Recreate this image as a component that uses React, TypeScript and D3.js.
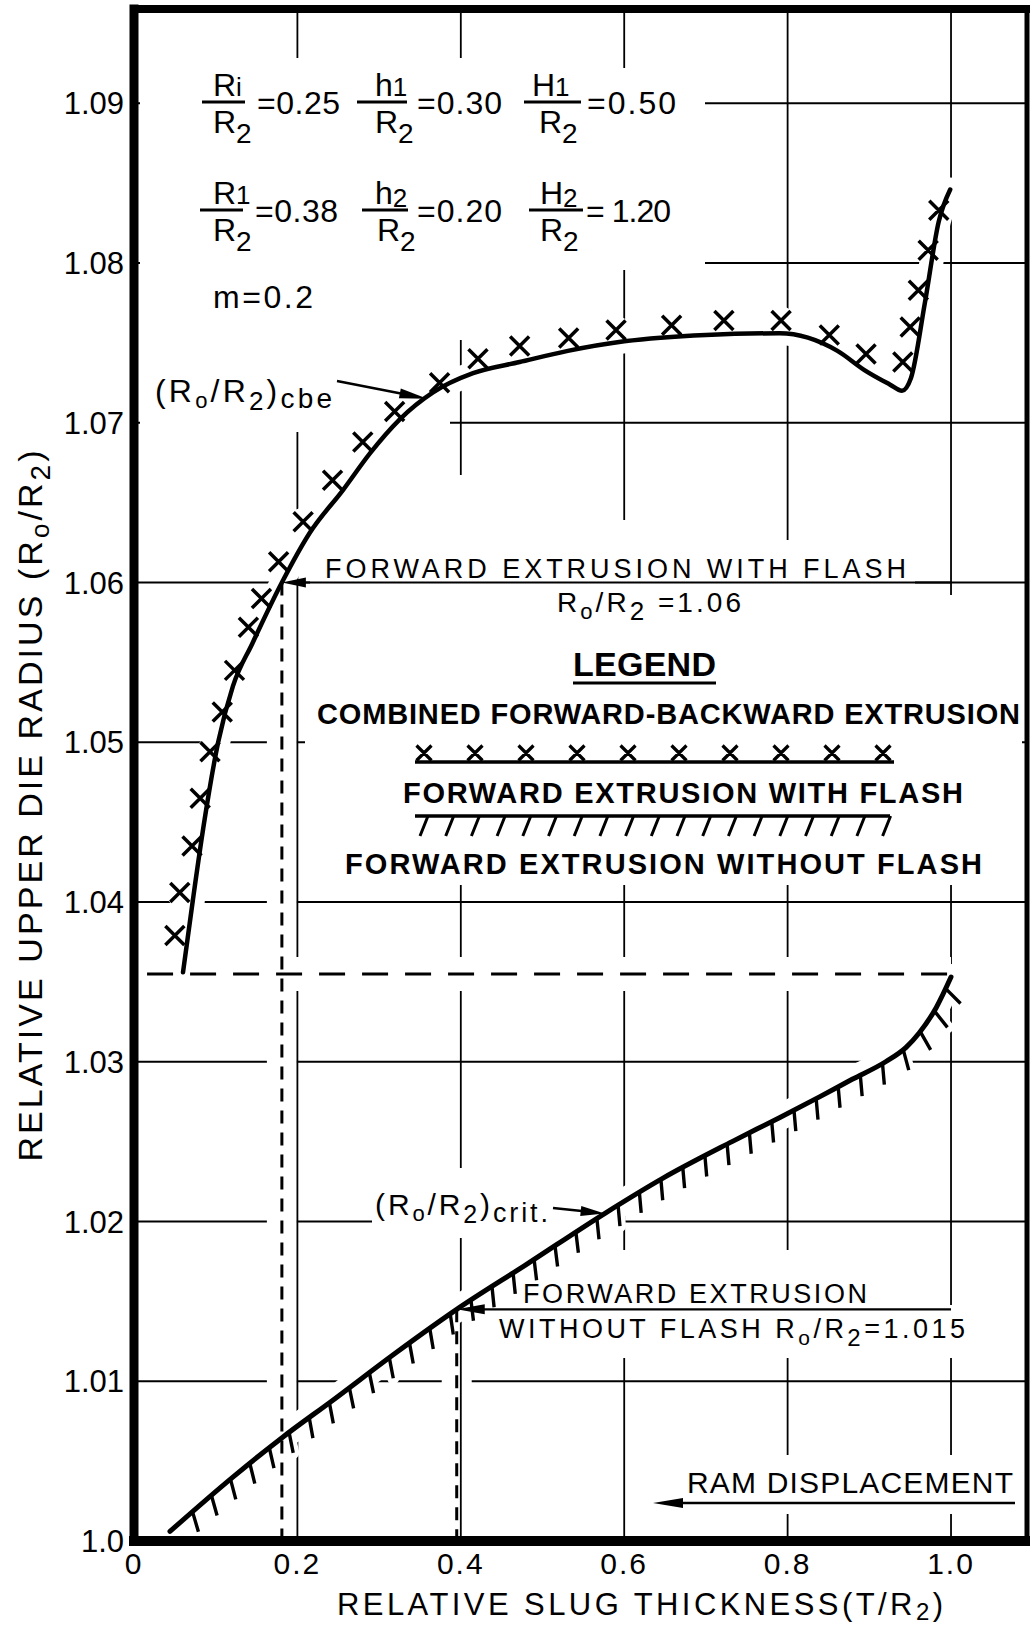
import { useLayoutEffect, useMemo, useRef, useState } from "react";
import * as d3 from "d3";

const WIDTH = 1030;
const HEIGHT = 1627;
const FRAME = { left: 134, right: 1027, top: 9, bottom: 1541 };
const FONT = "'Liberation Sans', Arial, sans-serif";
const INK = "#000";

// the frame runs a little past T/R2 = 1.0 and Ro/R2 = 1.09
const X_DOMAIN = [0, 1.093];
const Y_DOMAIN = [1.0, 1.0959];

const X_TICKS = [0, 0.2, 0.4, 0.6, 0.8, 1.0];
const X_TICK_LABELS = ["0", "0.2", "0.4", "0.6", "0.8", "1.0"];
const Y_TICKS = [1.0, 1.01, 1.02, 1.03, 1.04, 1.05, 1.06, 1.07, 1.08, 1.09];
const Y_TICK_LABELS = ["1.0", "1.01", "1.02", "1.03", "1.04", "1.05", "1.06", "1.07", "1.08", "1.09"];

// (Ro/R2)cbe, solid curve
const CBE_X = [0.06, 0.072, 0.085, 0.103, 0.121, 0.145, 0.181, 0.215, 0.256, 0.289, 0.325, 0.366, 0.415, 0.472, 0.531, 0.6, 0.7, 0.79, 0.861, 0.894, 0.925, 0.94, 0.951, 0.968, 0.985, 0.999];
const CBE_Y = [1.0356, 1.0401, 1.0447, 1.05, 1.0535, 1.0562, 1.06, 1.0631, 1.0658, 1.0681, 1.0702, 1.0719, 1.0731, 1.0738, 1.0745, 1.0751, 1.0755, 1.0756, 1.0745, 1.0733, 1.0724, 1.072, 1.0728, 1.0775, 1.0826, 1.0846];

// combined forward-backward extrusion, x marks
const COMBINED_X = [0.05, 0.056, 0.071, 0.081, 0.093, 0.108, 0.123, 0.14, 0.156, 0.177, 0.207, 0.243, 0.28, 0.319, 0.374, 0.421, 0.472, 0.532, 0.59, 0.658, 0.722, 0.792, 0.851, 0.896, 0.941, 0.95, 0.96, 0.972, 0.985];
const COMBINED_Y = [1.0379, 1.0406, 1.0435, 1.0465, 1.0494, 1.0519, 1.0545, 1.0572, 1.059, 1.0613, 1.0638, 1.0664, 1.0688, 1.0707, 1.0725, 1.074, 1.0748, 1.0753, 1.0758, 1.0761, 1.0764, 1.0764, 1.0755, 1.0743, 1.0738, 1.076, 1.0783, 1.0808, 1.0833];

// (Ro/R2)crit, hatched curve
const CRIT_X = [0.044, 0.121, 0.182, 0.243, 0.321, 0.395, 0.48, 0.576, 0.647, 0.732, 0.79, 0.839, 0.879, 0.92, 0.945, 0.961, 0.982, 1.0];
const CRIT_Y = [1.0006, 1.004, 1.0065, 1.0088, 1.0118, 1.0145, 1.0173, 1.0205, 1.0227, 1.025, 1.0265, 1.0278, 1.0289, 1.03, 1.0309, 1.0318, 1.0334, 1.0353];

const FLASH_POINT = [0.181, 1.06];
const NO_FLASH_POINT = [0.395, 1.0145];
const TRANSITION_LEVEL = 1.0355;
const TRANSITION_FROM = 0.016;
const CBE_ARROW_TIP = [0.359, 1.0715];
const CRIT_ARROW_TIP = [0.576, 1.0205];

// white areas the draftsman left around lettering
const KNOCKOUTS = [
  { x: 140, y: 58, w: 375, h: 282 },
  { x: 515, y: 68, w: 190, h: 202 },
  { x: 140, y: 340, w: 310, h: 92 },
  { x: 310, y: 475, w: 230, h: 120 },
  { x: 540, y: 520, w: 160, h: 75 },
  { x: 700, y: 540, w: 215, h: 55 },
  { x: 305, y: 595, w: 717, h: 290 },
  { x: 372, y: 1168, w: 245, h: 70 },
  { x: 505, y: 1250, w: 375, h: 55 },
  { x: 490, y: 1305, w: 485, h: 53 },
  { x: 640, y: 1455, w: 382, h: 59 }
];

function crossPath(cx: number, cy: number, s: number) {
  return `M${cx - s},${cy - s}L${cx + s},${cy + s}M${cx + s},${cy - s}L${cx - s},${cy + s}`;
}

function arrowHead(tipX: number, tipY: number, fromX: number, fromY: number, len = 26, half = 5) {
  const a = Math.atan2(tipY - fromY, tipX - fromX);
  const bx = tipX - len * Math.cos(a);
  const by = tipY - len * Math.sin(a);
  const nx = -Math.sin(a) * half;
  const ny = Math.cos(a) * half;
  return `M${tipX},${tipY}L${bx + nx},${by + ny}L${bx - nx},${by - ny}Z`;
}

function Fraction({ barX1, barX2, barY, numX, num, numSub, numSubDy, denX, value, valueX, valueLen }) {
  return (
    <g fontFamily={FONT} fill={INK}>
      <text x={numX} y={barY - 6} fontSize={32}>
        {num}
        <tspan fontSize={26} dy={numSubDy}>{numSub}</tspan>
      </text>
      <line x1={barX1} x2={barX2} y1={barY} y2={barY} stroke={INK} strokeWidth={3} />
      <text x={denX} y={barY + 31} fontSize={32}>
        R<tspan fontSize={28} dy={10}>2</tspan>
      </text>
      <text x={valueX} y={barY + 12} fontSize={32} textLength={valueLen} lengthAdjust="spacing">
        {value}
      </text>
    </g>
  );
}

export default function App() {
  const x = useMemo(() => d3.scaleLinear().domain(X_DOMAIN).range([FRAME.left, FRAME.right]), []);
  const y = useMemo(() => d3.scaleLinear().domain(Y_DOMAIN).range([FRAME.bottom, FRAME.top]), []);

  const line = d3
    .line<number[]>()
    .x((d) => x(d[0]))
    .y((d) => y(d[1]))
    .curve(d3.curveMonotoneX);

  const cbePath = line(d3.zip(CBE_X, CBE_Y)) ?? "";
  const critPath = line(d3.zip(CRIT_X, CRIT_Y)) ?? "";
  const combined = d3.zip(COMBINED_X, COMBINED_Y);

  const critRef = useRef<SVGPathElement>(null);
  const [hatch, setHatch] = useState("");

  useLayoutEffect(() => {
    const path = critRef.current;
    if (!path) return;
    const total = path.getTotalLength();
    const len = 21;
    let d = "";
    for (let s = 30; s <= total - 3; s += 25) {
      const p = path.getPointAtLength(s);
      const a = path.getPointAtLength(Math.max(0, s - 2));
      const b = path.getPointAtLength(Math.min(total, s + 2));
      const theta = (Math.atan2(-(b.y - a.y), b.x - a.x) * 180) / Math.PI;
      const tilt = (Math.max(5, Math.min(48, 1.2 * theta - 33)) * Math.PI) / 180;
      d += `M${p.x},${p.y}L${p.x + len * Math.sin(tilt)},${p.y + len * Math.cos(tilt)}`;
    }
    setHatch(d);
  }, [critPath]);

  const gridX = X_TICKS.filter((t) => t > 0);
  const gridY = Y_TICKS.filter((t) => t > 1);

  const flashX = x(FLASH_POINT[0]);
  const flashY = y(FLASH_POINT[1]);
  const noFlashX = x(NO_FLASH_POINT[0]);
  const noFlashY = y(NO_FLASH_POINT[1]);
  const transitionY = y(TRANSITION_LEVEL);

  const legendMarks = d3.range(10).map((i) => 424 + i * 51);
  const legendHatch = d3.range(19).map((i) => 428 + i * 25.7);

  return (
    <svg
      width={WIDTH}
      height={HEIGHT}
      viewBox={`0 0 ${WIDTH} ${HEIGHT}`}
      style={{ position: "absolute", left: 0, top: 0, display: "block", background: "#fff" }}
    >
      <rect width={WIDTH} height={HEIGHT} fill="#fff" />

      {/* horizontal grid, cut where the dashed verticals run */}
      {gridY.map((t) => (
        <line key={`gy${t}`} x1={FRAME.left} x2={FRAME.right} y1={y(t)} y2={y(t)} stroke={INK} strokeWidth={1.8} />
      ))}
      <line x1={flashX} x2={flashX} y1={flashY + 20} y2={FRAME.bottom} stroke="#fff" strokeWidth={30} />
      <line x1={noFlashX} x2={noFlashX} y1={noFlashY + 14} y2={FRAME.bottom} stroke="#fff" strokeWidth={30} />

      {/* vertical grid, cut along the dashed transition level */}
      {gridX.map((t) => (
        <line key={`gx${t}`} x1={x(t)} x2={x(t)} y1={FRAME.top} y2={FRAME.bottom} stroke={INK} strokeWidth={1.8} />
      ))}
      <line x1={x(TRANSITION_FROM)} x2={x(1)} y1={transitionY} y2={transitionY} stroke="#fff" strokeWidth={34} />

      {KNOCKOUTS.map((r, i) => (
        <rect key={`k${i}`} x={r.x} y={r.y} width={r.w} height={r.h} fill="#fff" />
      ))}

      {/* halos under the curves */}
      <path d={cbePath} fill="none" stroke="#fff" strokeWidth={24} strokeLinecap="round" />
      {combined.map((d, i) => (
        <circle key={`h${i}`} cx={x(d[0])} cy={y(d[1])} r={14} fill="#fff" />
      ))}
      <path d={critPath} fill="none" stroke="#fff" strokeWidth={26} strokeLinecap="round" />
      <path d={hatch} fill="none" stroke="#fff" strokeWidth={12} strokeLinecap="round" />

      {/* dashed construction lines */}
      <g stroke={INK} strokeWidth={3} fill="none">
        <line x1={x(TRANSITION_FROM)} x2={x(1)} y1={transitionY} y2={transitionY} strokeDasharray="26 17" />
        <line x1={flashX} x2={flashX} y1={flashY} y2={FRAME.bottom} strokeDasharray="13 9" />
        <line x1={noFlashX} x2={noFlashX} y1={noFlashY} y2={FRAME.bottom} strokeDasharray="13 9" />
      </g>

      {/* curves */}
      <path d={cbePath} fill="none" stroke={INK} strokeWidth={4.5} strokeLinecap="round" strokeLinejoin="round" />
      <path d={combined.map((d) => crossPath(x(d[0]), y(d[1]), 9.5)).join("")} fill="none" stroke={INK} strokeWidth={3.5} />
      <path ref={critRef} d={critPath} fill="none" stroke={INK} strokeWidth={5} strokeLinecap="round" strokeLinejoin="round" />
      <path d={hatch} fill="none" stroke={INK} strokeWidth={3.4} />

      {/* parameters */}
      <Fraction barX1={202} barX2={245} barY={102} numX={213} num="R" numSub="i" numSubDy={0} denX={213} value="=0.25" valueX={257} valueLen={83} />
      <Fraction barX1={357} barX2={407} barY={102} numX={375} num="h" numSub="1" numSubDy={0} denX={375} value="=0.30" valueX={417} valueLen={85} />
      <Fraction barX1={524} barX2={581} barY={102} numX={532} num="H" numSub="1" numSubDy={0} denX={539} value="=0.50" valueX={587} valueLen={89} />
      <Fraction barX1={200} barX2={243} barY={210} numX={213} num="R" numSub="1" numSubDy={0} denX={213} value="=0.38" valueX={255} valueLen={83} />
      <Fraction barX1={362} barX2={408} barY={210} numX={375} num="h" numSub="2" numSubDy={3} denX={377} value="=0.20" valueX={417} valueLen={85} />
      <Fraction barX1={529} barX2={583} barY={210} numX={540} num="H" numSub="2" numSubDy={3} denX={540} value="= 1.20" valueX={586} valueLen={85} />
      <text x={213} y={308} fontFamily={FONT} fontSize={32} textLength={100} lengthAdjust="spacing">m=0.2</text>

      {/* (Ro/R2)cbe label */}
      <text x={155} y={402} fontFamily={FONT} fontSize={32} textLength={177} lengthAdjust="spacing">
        (R<tspan fontSize={22} dy={6}>o</tspan>
        <tspan dy={-6}>/R</tspan>
        <tspan fontSize={26} dy={8}>2</tspan>
        <tspan dy={-8}>)</tspan>
        <tspan fontSize={28} dy={6}>cbe</tspan>
      </text>
      <line x1={337} y1={381} x2={x(CBE_ARROW_TIP[0]) - 20} y2={y(CBE_ARROW_TIP[1]) - 4} stroke={INK} strokeWidth={2.5} />
      <path d={arrowHead(x(CBE_ARROW_TIP[0]), y(CBE_ARROW_TIP[1]), 337, 381, 28, 5)} fill={INK} />

      {/* forward extrusion with flash annotation */}
      <text x={325} y={578} fontFamily={FONT} fontSize={27} textLength={581} lengthAdjust="spacing">FORWARD EXTRUSION WITH FLASH</text>
      <line x1={flashX + 10} x2={x(1)} y1={flashY} y2={flashY} stroke={INK} strokeWidth={2.2} />
      <path d={arrowHead(flashX, flashY, flashX + 40, flashY, 24, 5)} fill={INK} />
      <text x={557} y={612} fontFamily={FONT} fontSize={28} textLength={184} lengthAdjust="spacing">
        R<tspan fontSize={22} dy={7}>o</tspan>
        <tspan dy={-7}>/R</tspan>
        <tspan fontSize={26} dy={8}>2</tspan>
        <tspan dy={-8}> =1.06</tspan>
      </text>

      {/* legend */}
      <g fontFamily={FONT} fontWeight="bold" fill={INK}>
        <text x={573} y={676} fontSize={34} textLength={143} lengthAdjust="spacing">LEGEND</text>
        <line x1={573} x2={716} y1={683} y2={683} stroke={INK} strokeWidth={3} />
        <text x={317} y={724} fontSize={29} textLength={703} lengthAdjust="spacing">COMBINED FORWARD-BACKWARD EXTRUSION</text>
        <line x1={415} x2={894} y1={762} y2={762} stroke={INK} strokeWidth={3.5} />
        <path d={legendMarks.map((cx) => crossPath(cx, 753, 7.5)).join("")} fill="none" stroke={INK} strokeWidth={3.2} />
        <text x={403} y={803} fontSize={29} textLength={560} lengthAdjust="spacing">FORWARD EXTRUSION WITH FLASH</text>
        <line x1={415} x2={890} y1={816} y2={816} stroke={INK} strokeWidth={3.5} />
        <path d={legendHatch.map((hx) => `M${hx},${816}L${hx - 8},${836}`).join("")} fill="none" stroke={INK} strokeWidth={3} />
        <text x={345} y={874} fontSize={29} textLength={637} lengthAdjust="spacing">FORWARD EXTRUSION WITHOUT FLASH</text>
      </g>

      {/* (Ro/R2)crit label */}
      <text x={375} y={1215} fontFamily={FONT} fontSize={30} textLength={173} lengthAdjust="spacing">
        (R<tspan fontSize={22} dy={6}>o</tspan>
        <tspan dy={-6}>/R</tspan>
        <tspan fontSize={25} dy={8}>2</tspan>
        <tspan dy={-8}>)</tspan>
        <tspan fontSize={27} dy={7}>crit.</tspan>
      </text>
      <line x1={553} y1={1208} x2={x(CRIT_ARROW_TIP[0]) - 18} y2={y(CRIT_ARROW_TIP[1]) - 2} stroke={INK} strokeWidth={2.5} />
      <path d={arrowHead(x(CRIT_ARROW_TIP[0]), y(CRIT_ARROW_TIP[1]), 553, 1208, 24, 5)} fill={INK} />

      {/* forward extrusion without flash annotation */}
      <text x={523} y={1303} fontFamily={FONT} fontSize={27} textLength={344} lengthAdjust="spacing">FORWARD EXTRUSION</text>
      <line x1={noFlashX + 10} x2={x(1)} y1={noFlashY} y2={noFlashY} stroke={INK} strokeWidth={2.2} />
      <path d={arrowHead(noFlashX, noFlashY, noFlashX + 40, noFlashY, 28, 5)} fill={INK} />
      <text x={499} y={1338} fontFamily={FONT} fontSize={27} textLength={466} lengthAdjust="spacing">
        WITHOUT FLASH R<tspan fontSize={21} dy={7}>o</tspan>
        <tspan dy={-7}>/R</tspan>
        <tspan fontSize={24} dy={8}>2</tspan>
        <tspan dy={-8}>=1.015</tspan>
      </text>

      {/* ram displacement */}
      <text x={687} y={1493} fontFamily={FONT} fontSize={30} textLength={326} lengthAdjust="spacing">RAM DISPLACEMENT</text>
      <line x1={675} x2={1015} y1={1503} y2={1503} stroke={INK} strokeWidth={2.5} />
      <path d={arrowHead(653, 1503, 700, 1503, 30, 5)} fill={INK} />

      {/* frame */}
      <g stroke={INK} strokeLinecap="square">
        <line x1={FRAME.left} x2={FRAME.left} y1={FRAME.top} y2={FRAME.bottom} strokeWidth={9} />
        <line x1={FRAME.left} x2={FRAME.right} y1={FRAME.bottom} y2={FRAME.bottom} strokeWidth={10} />
        <line x1={FRAME.left} x2={FRAME.right} y1={FRAME.top} y2={FRAME.top} strokeWidth={8} />
        <line x1={FRAME.right} x2={FRAME.right} y1={FRAME.top} y2={FRAME.bottom} strokeWidth={5} />
      </g>

      {/* tick labels */}
      <g fontFamily={FONT} fontSize={31} fill={INK} textAnchor="end">
        {Y_TICKS.map((t, i) => (
          <text key={`yl${t}`} x={124} y={y(t) + 11}>{Y_TICK_LABELS[i]}</text>
        ))}
      </g>
      <g fontFamily={FONT} fontSize={30} fill={INK} textAnchor="middle">
        {X_TICKS.map((t, i) => (
          <text key={`xl${t}`} x={x(t)} y={1574} letterSpacing={2}>{X_TICK_LABELS[i]}</text>
        ))}
      </g>

      {/* axis titles */}
      <text x={337} y={1615} fontFamily={FONT} fontSize={31} textLength={606} lengthAdjust="spacing">
        RELATIVE SLUG THICKNESS(T/R<tspan fontSize={24} dy={5}>2</tspan>
        <tspan dy={-5}>)</tspan>
      </text>
      <text
        transform="translate(42, 806) rotate(-90)"
        textAnchor="middle"
        fontFamily={FONT}
        fontSize={34}
        textLength={711}
        lengthAdjust="spacing"
      >
        RELATIVE UPPER DIE RADIUS (R<tspan fontSize={26} dy={7}>o</tspan>
        <tspan dy={-7}>/R</tspan>
        <tspan fontSize={28} dy={8}>2</tspan>
        <tspan dy={-8}>)</tspan>
      </text>
    </svg>
  );
}
